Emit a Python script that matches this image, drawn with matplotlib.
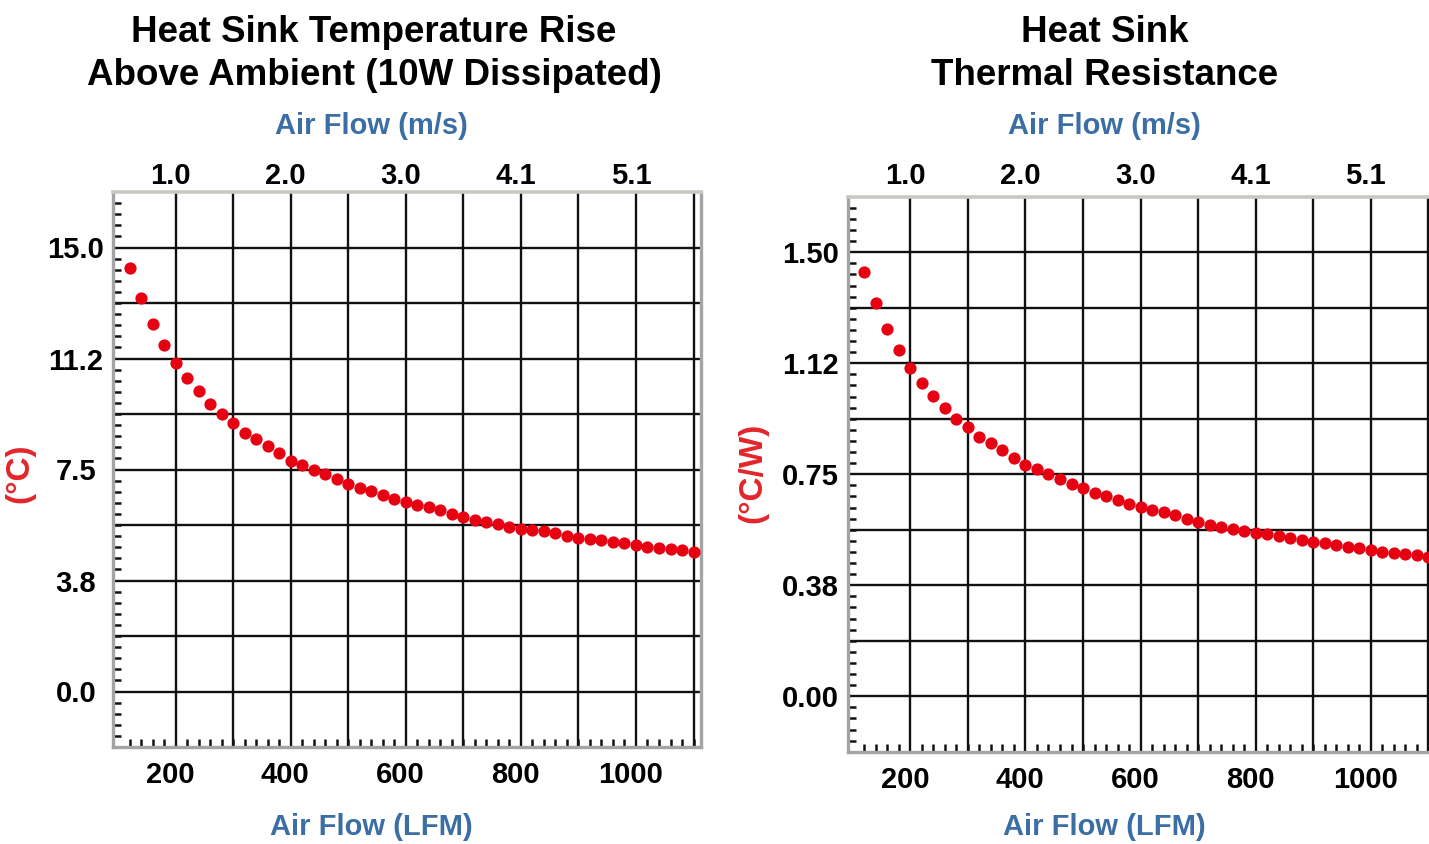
import numpy as np
import matplotlib.pyplot as plt
from matplotlib.ticker import FixedLocator
from matplotlib.transforms import ScaledTranslation

plt.rcParams['font.family'] = ['Liberation Sans', 'DejaVu Sans']
plt.rcParams['font.weight'] = 'bold'

# air flow, one reading every 20 LFM
air_lfm = np.arange(120, 1101, 20)
# temperature rise above ambient (deg C) with 10 W dissipated
temp_rise = [14.32, 13.28, 12.42, 11.71, 11.10, 10.59, 10.14, 9.72, 9.38, 9.08,
             8.74, 8.54, 8.31, 8.06, 7.80, 7.66, 7.49, 7.35, 7.18, 7.02,
             6.87, 6.78, 6.63, 6.51, 6.39, 6.30, 6.22, 6.12, 6.00, 5.88,
             5.80, 5.73, 5.65, 5.57, 5.50, 5.47, 5.42, 5.35, 5.27, 5.20,
             5.16, 5.11, 5.05, 5.01, 4.94, 4.88, 4.85, 4.80, 4.77, 4.71]
power_w = 10.0
# thermal resistance (deg C / W)
resistance = np.array(temp_rise) / power_w

lfm_ticks = [200, 400, 600, 800, 1000]
lfm_labels = ['200', '400', '600', '800', '1000']
ms_labels = ['1.0', '2.0', '3.0', '4.1', '5.1']
temp_ticks = [0.0, 3.75, 7.5, 11.25, 15.0]
temp_labels = ['0.0', '3.8', '7.5', '11.2', '15.0']
res_ticks = [0.0, 0.375, 0.75, 1.125, 1.5]
res_labels = ['0.00', '0.38', '0.75', '1.12', '1.50']

RED = '#e60012'
BLUE = '#3b6ea5'
W, H = 1429, 844

fig = plt.figure(figsize=(W / 100, H / 100), dpi=100)


def shift(labels, dx_px):
    off = ScaledTranslation(dx_px / 100, 0, fig.dpi_scale_trans)
    for lab in labels:
        lab.set_transform(lab.get_transform() + off)


def make_panel(rect, y, yticks, ylabels, ystep, top_pad):
    ax = fig.add_axes(rect)
    ax.plot(air_lfm, y, 'o', color=RED, ms=8.8, mew=0, zorder=3, clip_on=False)
    ax.set_xlim(91, 1113)
    ax.set_ylim(-ystep, 9 * ystep)

    # grid
    for gx in range(200, 1101, 100):
        ax.axvline(gx, color='#111111', lw=1.7, zorder=1)
    for k in range(9):
        ax.axhline(k * ystep, color='#111111', lw=1.7, zorder=1)

    ax.set_xticks(lfm_ticks, labels=lfm_labels, fontsize=21)
    ax.set_yticks(yticks, labels=ylabels, fontsize=21)
    ax.tick_params(which='major', length=0)
    ax.tick_params(axis='x', which='major', pad=10)
    ax.tick_params(axis='y', which='major', pad=26.6)
    for lab in ax.get_yticklabels():
        lab.set_horizontalalignment('center')
    shift(ax.get_xticklabels(), -5.5)

    ax.xaxis.set_minor_locator(FixedLocator(np.arange(120, 1101, 20)))
    ax.yaxis.set_minor_locator(FixedLocator(np.arange(-ystep, 9 * ystep, ystep / 5)))
    ax.tick_params(which='minor', direction='in', length=6, width=1.8, color='#111111')

    for side in ['left', 'right', 'bottom']:
        ax.spines[side].set_color('#a4a4a4')
        ax.spines[side].set_linewidth(2.4)
    ax.spines['top'].set_color('#cac8c2')
    ax.spines['top'].set_linewidth(2.6)

    sec = ax.secondary_xaxis('top')
    sec.set_xticks(lfm_ticks, labels=ms_labels, fontsize=21)
    sec.tick_params(length=0, pad=top_pad)
    sec.spines['top'].set_visible(False)
    shift(sec.get_xticklabels(), -5.0)
    return ax


make_panel([113 / W, 1 - 747 / H, 588 / W, 555 / H], temp_rise,
           temp_ticks, temp_labels, 1.875, 1.5)
make_panel([847.7 / W, 1 - 751.7 / H, 588 / W, 555 / H], resistance,
           res_ticks, res_labels, 0.1875, 4.9)

fig.text(374 / W, 1 - 54 / H, 'Heat Sink Temperature Rise\nAbove Ambient (10W Dissipated)',
         ha='center', va='center', fontsize=26.5, linespacing=1.3)
fig.text(1105 / W, 1 - 54 / H, 'Heat Sink\nThermal Resistance',
         ha='center', va='center', fontsize=26.5, linespacing=1.3)

for cx in [371, 1104]:
    fig.text(cx / W, 1 - 126 / H, 'Air Flow (m/s)', ha='center', va='center',
             fontsize=21, color=BLUE)
    fig.text(cx / W, 1 - 827 / H, 'Air Flow (LFM)', ha='center', va='center',
             fontsize=21, color=BLUE)

fig.text(20 / W, 1 - 473 / H, '(°C)', rotation=90, ha='center', va='center',
         fontsize=24, color='#e3262b')
fig.text(752.5 / W, 1 - 473 / H, '(°C/W)', rotation=90, ha='center', va='center',
         fontsize=24, color='#e3262b')

fig.savefig('out.png', dpi=100)
